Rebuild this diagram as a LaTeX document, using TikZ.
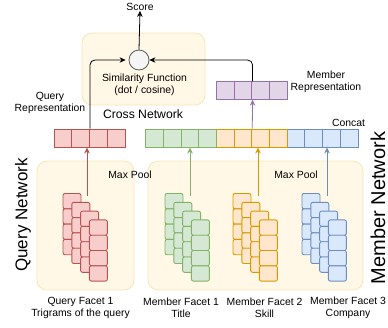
\documentclass[tikz,border=0pt]{standalone}
\usepackage{fontspec}
\setmainfont{Liberation Sans}
\usepackage{tikz}
\usetikzlibrary{arrows.meta,positioning}

\definecolor{redfill}{HTML}{F8CECC}
\definecolor{redline}{HTML}{B85450}
\definecolor{greenfill}{HTML}{D5E8D4}
\definecolor{greenline}{HTML}{82B366}
\definecolor{orangefill}{HTML}{FFE6CC}
\definecolor{orangeline}{HTML}{D79B00}
\definecolor{bluefill}{HTML}{DAE8FC}
\definecolor{blueline}{HTML}{6C8EBF}
\definecolor{purplefill}{HTML}{E1D5E7}
\definecolor{purpleline}{HTML}{9673A6}
\definecolor{boxfill}{HTML}{FFF8E6}
\definecolor{boxline}{HTML}{F7E6B5}

\begin{document}
\begin{tikzpicture}[
    x=1pt, y=-1pt,
    font=\fontsize{10.4}{12}\selectfont,
    group/.style={rectangle, draw=boxline, fill=boxfill, rounded corners=10pt, line width=0.8pt, inner sep=0pt},
    cell/.style={rectangle, draw=#1line, fill=#1fill, line width=0.9pt, minimum width=17.75pt, minimum height=18pt, inner sep=0pt},
    stackcell/.style={cell=#1, minimum width=18pt, minimum height=15.3pt, rounded corners=2pt},
    label/.style={align=center, inner sep=0pt},
    title/.style={rotate=90, inner sep=0pt},
    pipe/.style={draw=#1line, line width=0.8pt, -{Stealth[length=6pt,width=5.5pt]}},
    link/.style={draw=black, line width=0.8pt, rounded corners=5pt, -{Stealth[length=6pt,width=5.5pt]}}
]
\useasboundingbox (0,0) rectangle (388,327);

% Group boxes
\node[group, minimum width=123pt, minimum height=72pt] (cross) at (143.5,69) {};
\node[group, minimum width=97pt, minimum height=129pt] (qgroup) at (85.5,225.5) {};
\node[group, minimum width=215pt, minimum height=129pt] (mgroup) at (255.5,225.5) {};

% Network titles
\node[title, font=\fontsize{17}{20}\selectfont] (qnet) at (23,215) {Query Network};
\node[title, font=\fontsize{20}{24}\selectfont] (mnet) at (378,208) {Member Network};
\node[label, font=\fontsize{12.2}{14}\selectfont] (crossnet) at (143,114) {Cross Network};

% Stack tops (free ends of the max pool arrows)
\coordinate (qtop) at (87,196);
\coordinate (ttop) at (190,196);
\coordinate (stop) at (258,196);
\coordinate (ctop) at (327,196);

% Representation vectors
\foreach \i in {1,...,4} {
    \node[cell=red] (q\i) at ({54+17.75*(\i-0.5)},138) {};
    \node[cell=green] (t\i) at ({146+17.625*(\i-0.5)},138) {};
    \node[cell=orange] (s\i) at ({216.5+17.625*(\i-0.5)},138) {};
    \node[cell=blue] (c\i) at ({287+17.75*(\i-0.5)},138) {};
    \node[cell=purple, minimum height=17.5pt] (m\i) at ({217+17.5*(\i-0.5)},90.5) {};
}

% Max pool arrows (behind the stacks)
\draw[pipe=red] (qtop) -- (qtop |- q1.south);
\draw[pipe=green] (ttop) -- (ttop |- t1.south);
\draw[pipe=orange] (stop) -- (stop |- s1.south);
\draw[pipe=blue] (ctop) -- (ctop |- c1.south);

% Facet stacks
\foreach \name/\x/\col in {qs/63/red, ts/165/green, ss/233/orange, cs/302/blue} {
    \foreach \k in {0,...,3} {
        \foreach \r in {0,...,3} {
            \node[stackcell=\col] (\name-\k-\r) at ({\x+9+8.8*\k},{193.5+7.65+8.8*\k+15.3*\r}) {};
        }
    }
}

% Similarity
\node[circle, draw=black!65, fill=black!4, line width=0.8pt, minimum size=20pt, inner sep=0pt] (sim) at (139,60) {};
\node[label] (simtext) at (144.5,84.5) {Similarity Function\\(dot / cosine)};
\node[label] (score) at (140,7) {Score};

% Labels
\node[label] (qrep) at (50,102.5) {Query\\Representation};
\node[label] (mrep) at (326,82) {Member\\Representation};
\node[label] (concat) at (348.5,122.5) {Concat};
\node[label] (qpool) at (130,175) {Max Pool};
\node[label] (mpool) at (296,175) {Max Pool};
\node[label] (qfacet) at (80.5,307.5) {Query Facet 1\\Trigrams of the query};
\node[label] (tfacet) at (181,307.5) {Member Facet 1\\Title};
\node[label] (sfacet) at (264.5,307.5) {Member Facet 2\\Skill};
\node[label] (cfacet) at (348,307.5) {Member Facet 3\\Company};

% Connections
\draw[pipe=purple] (s2.north east) -- (m2.south east);
\draw[link] (q2.north east) |- ([xshift=-3pt]sim.west);
\draw[link] (m2.north east) |- (sim.east);
\draw[link, rounded corners=0pt] (sim.north) -- (score.south);

\end{tikzpicture}
\end{document}
